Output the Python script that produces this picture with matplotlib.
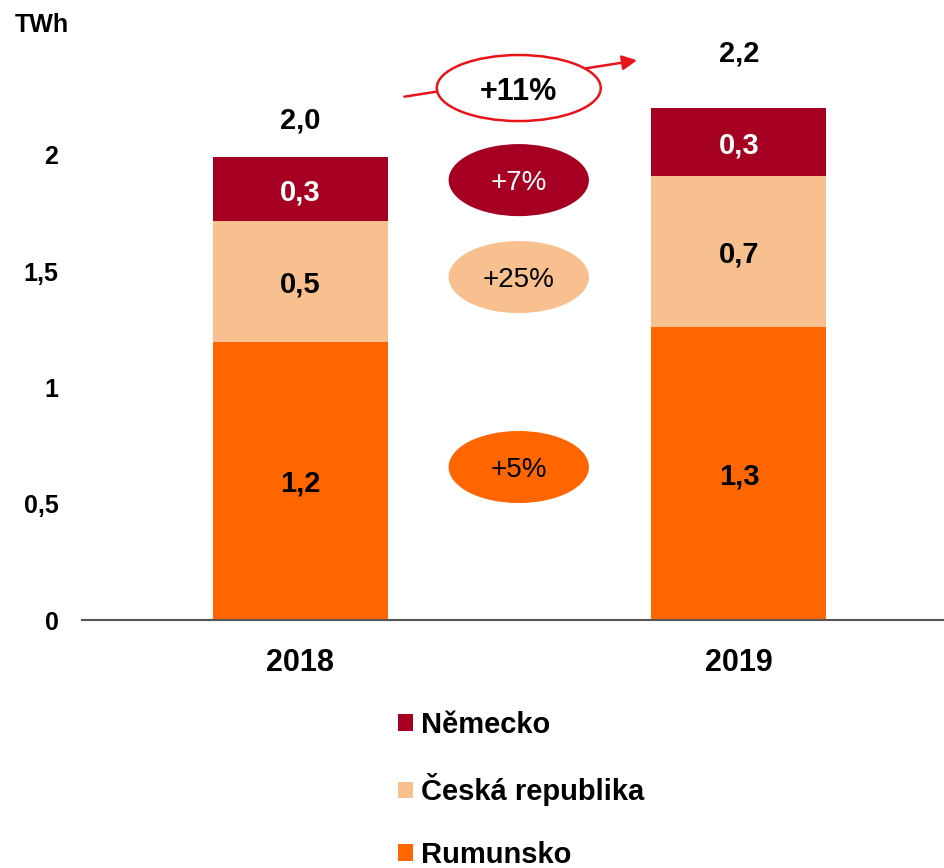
import matplotlib
matplotlib.use("Agg")
import matplotlib.pyplot as plt
from matplotlib.patches import Ellipse, Patch

plt.rcParams['font.family'] = ['Liberation Sans', 'DejaVu Sans']

years = ["2018", "2019"]
series = ["Rumunsko", "Česká republika", "Německo"]
rumunsko = [1.196, 1.26]
ceska = [0.52, 0.65]
nemecko = [0.275, 0.29]
seg_labels = {"Rumunsko": ["1,2", "1,3"], "Česká republika": ["0,5", "0,7"], "Německo": ["0,3", "0,3"]}
total_labels = ["2,0", "2,2"]
growth_labels = ["+5%", "+25%", "+7%"]
total_growth = "+11%"
yticks = [0, 0.5, 1, 1.5, 2]
yticklabels = ["0", "0,5", "1", "1,5", "2"]

colors = {"Rumunsko": "#FF6600", "Česká republika": "#F8C08E", "Německo": "#A50021"}
text_colors = {"Rumunsko": "black", "Česká republika": "black", "Německo": "white"}

fig = plt.figure(figsize=(9.45, 8.68), dpi=100)
ax = fig.add_axes([82/945, 1-620/868, 1-82/945, 604.5/868])

x = [0, 1]
w = 0.399
bottom = [0, 0]
vals = {"Rumunsko": rumunsko, "Česká republika": ceska, "Německo": nemecko}
for s in series:
    v = vals[s]
    ax.bar(x, v, w, bottom=bottom, color=colors[s], label=s)
    for i in range(2):
        ax.text(x[i], bottom[i] + v[i]/2, seg_labels[s][i], ha='center', va='center_baseline',
                fontsize=21, fontweight='bold', color=text_colors[s])
    bottom = [bottom[i] + v[i] for i in range(2)]

total_offsets = [0.17, 0.25]
for i in range(2):
    ax.text(x[i], bottom[i] + total_offsets[i], total_labels[i], ha='center', va='center_baseline',
            fontsize=21, fontweight='bold', color='black')

ell_y = [0.658, 1.475, 1.892]
ell_fc = [colors["Rumunsko"], colors["Česká republika"], colors["Německo"]]
ell_tc = ["black", "black", "white"]
for yy, fc, tc, lab in zip(ell_y, ell_fc, ell_tc, growth_labels):
    ax.add_patch(Ellipse((0.498, yy), 0.32, 0.31, facecolor=fc, edgecolor='none'))
    ax.text(0.498, yy, lab, ha='center', va='center_baseline', fontsize=20, color=tc)

ax.annotate("", xy=(0.774, 2.409), xytext=(0.231, 2.249),
            arrowprops=dict(arrowstyle='-|>', color='#E8141B', lw=1.8, mutation_scale=22))
ax.add_patch(Ellipse((0.498, 2.288), 0.374, 0.284, facecolor='white', edgecolor='#E8141B', lw=1.8, zorder=3))
ax.text(0.498, 2.288, total_growth, ha='center', va='center_baseline', fontsize=22, fontweight='bold', zorder=4)

ax.set_xlim(-0.498, 1.470)
ax.set_ylim(0, 2.6)
ax.set_xticks(x)
ax.set_xticklabels(years, fontsize=22, fontweight='bold')
ax.set_yticks(yticks)
ax.set_yticklabels(yticklabels, fontsize=18, fontweight='bold')
ax.tick_params(axis='both', length=0)
ax.tick_params(axis='x', pad=20)
ax.tick_params(axis='y', pad=17)
for sp in ['top', 'right', 'left']:
    ax.spines[sp].set_visible(False)
ax.spines['bottom'].set_color('#555555')
ax.spines['bottom'].set_linewidth(1.5)

fig.text(15/945, 1-25/868, "TWh", fontsize=18, fontweight='bold', va='center', ha='left')

handles = [Patch(facecolor=colors[s]) for s in ["Německo", "Česká republika", "Rumunsko"]]
leg = fig.legend(handles, ["Německo", "Česká republika", "Rumunsko"], loc='upper left',
                 bbox_to_anchor=(398/945, 1-711/868), frameon=False,
                 prop={'size': 21, 'weight': 'bold'}, handlelength=0.5, handleheight=0.5,
                 handletextpad=0.3, labelspacing=1.18, borderaxespad=0, borderpad=0)

fig.savefig("out.png", dpi=100)
